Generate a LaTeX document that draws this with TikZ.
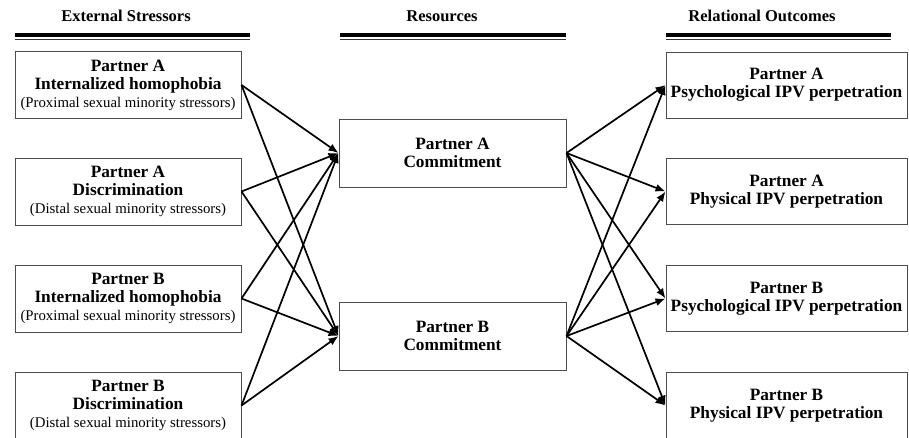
\documentclass[tikz,border=0pt]{standalone}
\usepackage{fontspec}
\setmainfont{Liberation Serif}
\usetikzlibrary{arrows.meta}
\begin{document}
\begin{tikzpicture}[x=1pt,y=-1pt,
  box/.style={draw=black!70,line width=1pt,align=center,inner sep=0pt,
    font=\fontsize{17.3}{18}\selectfont\bfseries},
  lbox/.style={box,minimum width=226pt,minimum height=67pt},
  mbox/.style={box,minimum width=227pt,minimum height=68pt},
  rbox/.style={box,minimum width=241pt,minimum height=66pt},
  head/.style={font=\fontsize{16.5}{18}\selectfont\bfseries,inner sep=0pt},
  arr/.style={line width=1.7pt,-{Latex[length=10pt,width=8pt]}},
  thickrule/.style={line width=4pt},
  thinrule/.style={line width=1.2pt,draw=black!80}
]
\useasboundingbox (0,0) rectangle (909,437);
\clip (0,0) rectangle (909,437);

% headers
\node[head] (h1) at (126,16) {External Stressors};
\node[head] (h2) at (442,16) {Resources};
\node[head] (h3) at (762,16) {Relational Outcomes};
\draw[thickrule] (15,35) -- (250,35);
\draw[thinrule] (15,39.5) -- (250,39.5);
\draw[thickrule] (340,35) -- (566,35);
\draw[thinrule] (340,39.5) -- (566,39.5);
\draw[thickrule] (666,35) -- (891,35);
\draw[thinrule] (666,39.5) -- (891,39.5);

% left boxes
\newcommand{\subtxt}[1]{{\fontsize{14.8}{17}\selectfont\mdseries #1}}
\node[lbox] (l1) at (128,85) {Partner A\\Internalized homophobia\\\subtxt{(Proximal sexual minority stressors)}};
\node[lbox] (l2) at (128,191.5) {Partner A\\Discrimination\\\subtxt{(Distal sexual minority stressors)}};
\node[lbox] (l3) at (128,298.5) {Partner B\\Internalized homophobia\\\subtxt{(Proximal sexual minority stressors)}};
\node[lbox] (l4) at (128,405.5) {Partner B\\Discrimination\\\subtxt{(Distal sexual minority stressors)}};

% middle boxes
\node[mbox] (mA) at (452.5,153) {Partner A\\Commitment};
\node[mbox] (mB) at (452.5,336) {Partner B\\Commitment};

% right boxes
\node[rbox] (r1) at (786.5,85) {Partner A\\Psychological IPV perpetration};
\node[rbox] (r2) at (786.5,191.5) {Partner A\\Physical IPV perpetration};
\node[rbox] (r3) at (786.5,298.5) {Partner B\\Psychological IPV perpetration};
\node[rbox] (r4) at (786.5,405.5) {Partner B\\Physical IPV perpetration};

% arrows left -> middle
\foreach \s in {l1,l2,l3,l4}{
  \draw[arr] (\s.east) -- (mA.west);
  \draw[arr] (\s.east) -- (mB.west);
}
% arrows middle -> right
\foreach \t in {r1,r2,r3,r4}{
  \draw[arr] (mA.east) -- (\t.west);
  \draw[arr] (mB.east) -- (\t.west);
}
\end{tikzpicture}
\end{document}
